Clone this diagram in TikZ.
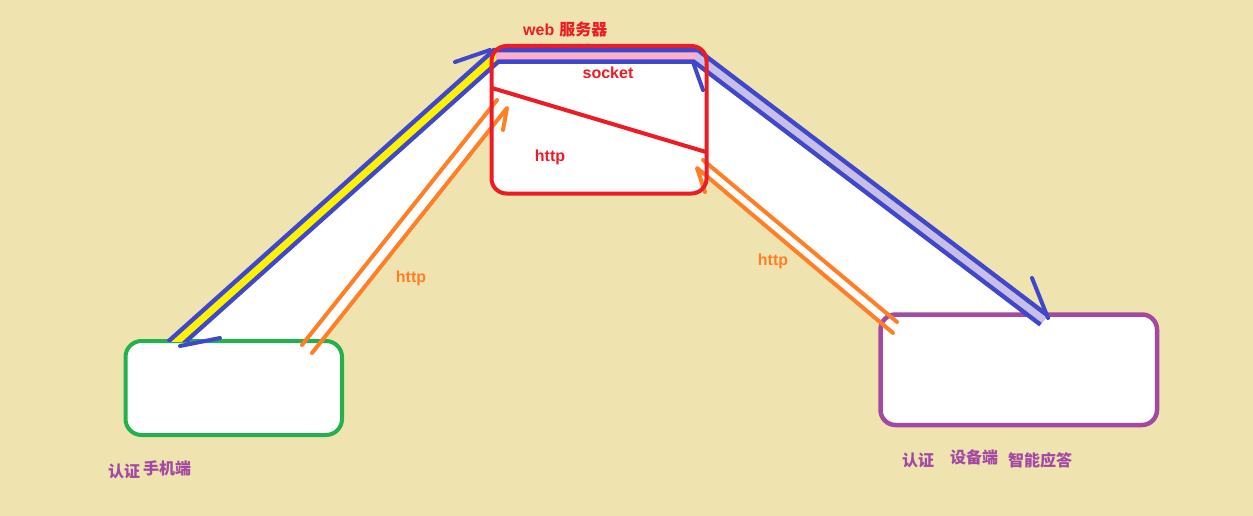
\documentclass[tikz,border=0pt]{standalone}
\usepackage{fontspec}
\newfontfamily\cjk{Noto Sans CJK SC}
\newfontfamily\lat{Liberation Sans}
\definecolor{bgc}{RGB}{239,228,176}
\definecolor{redc}{RGB}{237,28,36}
\definecolor{bluec}{RGB}{63,72,204}
\definecolor{pinkc}{RGB}{255,174,201}
\definecolor{yellowc}{RGB}{255,242,0}
\definecolor{lavc}{RGB}{200,191,231}
\definecolor{orangec}{RGB}{255,127,39}
\definecolor{greenc}{RGB}{34,177,76}
\definecolor{purplec}{RGB}{163,73,164}
\begin{document}
\begin{tikzpicture}[x=1pt,y=-1pt,
  boxc/.style={rectangle, rounded corners=15pt, line width=4pt, inner sep=0pt},
  oline/.style={draw=orangec, line width=4pt, line cap=round},
  bbarb/.style={draw=bluec, line width=4pt, line cap=round},
  lbl/.style={inner sep=0pt, font=\lat\bfseries\fontsize{16}{19}\selectfont},
  clbl/.style={inner sep=0pt, text=purplec, font=\cjk\bfseries\fontsize{16}{19}\selectfont}]
\useasboundingbox (0,0) rectangle (1253,516);
\fill[bgc] (0,0) rectangle (1253,516);

% named points of the bands
\coordinate (bL) at (172,346);
\coordinate (bTL) at (496,56);
\coordinate (bTR) at (696,56);
\coordinate (bR) at (1044,320);

% white areas between the channels
\fill[white] (176,343) -- (bTL) -- (507,56) -- (507,108) -- (312,353) -- cycle;
\fill[white] (bTR) -- (bR) -- (893,333) -- (697,168) -- cycle;

% boxes
\node[boxc, draw=greenc, fill=white, minimum width=216.5pt, minimum height=94pt, rounded corners=16pt] (phone) at (233.75,388) {};
\node[boxc, draw=purplec, fill=white, line width=4.5pt, minimum width=276.5pt, minimum height=110.5pt] (dev) at (1018.75,369.75) {};
\node[boxc, fill=white, minimum width=215pt, minimum height=147.5pt] (srv) at (599,119.75) {};

% red split line in server
\coordinate (sp1) at (492,88);
\coordinate (sp2) at (706,152);
\draw[redc, line width=4pt] (sp1) -- (sp2);

% orange http lines, left
\coordinate (la1) at (302,345); \coordinate (la2) at (497,100);
\coordinate (lb1) at (312,353); \coordinate (lb2) at (507,108); \coordinate (lb3) at (503,130);
\draw[oline] (la1) -- (la2);
\draw[oline, line join=round] (lb1) -- (lb2) -- (lb3);
% orange http lines, right
\coordinate (ra1) at (703,160); \coordinate (ra2) at (897,322);
\coordinate (rb1) at (893,333); \coordinate (rb2) at (697,168); \coordinate (rb3) at (705,192);
\draw[oline] (ra1) -- (ra2);
\draw[oline, line join=round] (rb1) -- (rb2) -- (rb3);

% blue socket band
\begin{scope}
\clip (0,0) rectangle (1253,341);
\draw[bluec, line width=16pt, line join=miter] (bL) -- (bTL) -- (bTR) -- (bR);
\begin{scope}
\clip (0,0) rectangle (496,516);
\draw[yellowc, line width=7pt, line join=miter] (bL) -- (bTL) -- (bTR) -- (bR);
\end{scope}
\begin{scope}
\clip (496,0) rectangle (696,516);
\draw[pinkc, line width=7pt, line join=miter] (bL) -- (bTL) -- (bTR) -- (bR);
\end{scope}
\begin{scope}
\clip (696,0) rectangle (1253,516);
\draw[lavc, line width=7pt, line join=miter] (bL) -- (bTL) -- (bTR) -- (bR);
\end{scope}
\end{scope}
% blue arrow barbs
\coordinate (k1a) at (180,346); \coordinate (k1b) at (220,338);
\coordinate (k2a) at (455,62); \coordinate (k2b) at (490,50);
\coordinate (k3a) at (693,62); \coordinate (k3b) at (703,90);
\coordinate (k4a) at (1032,278); \coordinate (k4b) at (1048,318);
\draw[bbarb] (k1a) -- (k1b);
\draw[bbarb] (k2a) -- (k2b);
\draw[bbarb] (k3a) -- (k3b);
\draw[bbarb] (k4a) -- (k4b);

% server border on top
\node[boxc, draw=redc, minimum width=215pt, minimum height=147.5pt] (srvb) at (srv) {};

% labels
\node[lbl, text=redc, anchor=west] (t1) at (523,29) {web\hspace{5pt}{\cjk\bfseries 服务器}};
\node[lbl, text=redc] (t2) at (608,73) {socket};
\node[lbl, text=redc] (t3) at (550,157) {http};
\node[lbl, text=orangec] (t4) at (411,278) {http};
\node[lbl, text=orangec] (t5) at (773,261) {http};
\node[clbl, anchor=west] (t6) at (108,471) {认证};
\node[clbl, anchor=west] (t7) at (143,468) {手机端};
\node[clbl, anchor=west] (t8) at (902,460) {认证};
\node[clbl, anchor=west] (t9) at (950,457) {设备端};
\node[clbl, anchor=west] (t10) at (1008,460) {智能应答};
\end{tikzpicture}
\end{document}
